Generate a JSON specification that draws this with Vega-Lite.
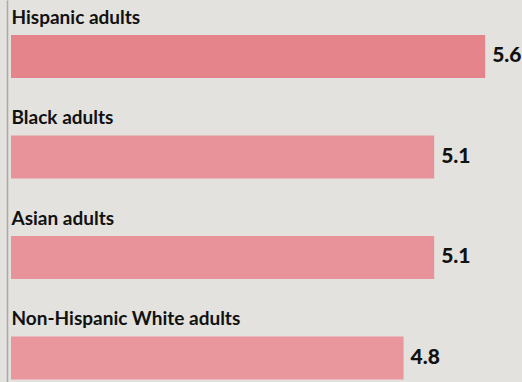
{
  "$schema": "https://vega.github.io/schema/vega-lite/v6.json",
  "width": 511,
  "height": 382,
  "autosize": "none",
  "padding": {"left": 11, "top": 0, "right": 0, "bottom": 0},
  "background": "#e3e2de",
  "config": {"view": {"stroke": null}},
  "data": {"values": [
    {"group": "Hispanic adults", "value": 5.6, "label": "5.6"},
    {"group": "Black adults", "value": 5.1, "label": "5.1"},
    {"group": "Asian adults", "value": 5.1, "label": "5.1"},
    {"group": "Non-Hispanic White adults", "value": 4.8, "label": "4.8"}
  ]},
  "encoding": {
    "y": {"field": "group", "type": "nominal", "sort": ["Hispanic adults", "Black adults", "Asian adults", "Non-Hispanic White adults"],
      "scale": {"paddingInner": 0.572, "paddingOuter": 0.1866, "align": 0.933},
      "axis": {"title": null, "ticks": false, "domain": true, "domainColor": "#a9a9a9", "domainWidth": 1.5,
        "offset": 4, "labelPadding": -4, "labelAlign": "left", "labelBaseline": "alphabetic", "labelOffset": -32.5,
        "labelFont": "Lato", "labelFontSize": 19, "labelFontWeight": "bold", "labelColor": "#111111", "labelLimit": 0, "grid": false}},
    "x": {"field": "value", "type": "quantitative", "axis": null,
      "scale": {"domain": [0.951, 5.961], "zero": false, "nice": false, "clamp": true}}
  },
  "layer": [
    {
      "mark": {"type": "bar"},
      "encoding": {
        "color": {"field": "group", "type": "nominal", "legend": null,
          "scale": {"domain": ["Hispanic adults", "Black adults", "Asian adults", "Non-Hispanic White adults"],
                    "range": ["#e5858b", "#e8939a", "#e8939a", "#ea969d"]}}
      }
    },
    {
      "mark": {"type": "text", "align": "left", "baseline": "middle", "dx": 7, "font": "Lato", "fontSize": 21, "fontWeight": 900, "color": "#111111"},
      "encoding": {
        "text": {"field": "label"}
      }
    }
  ]
}
